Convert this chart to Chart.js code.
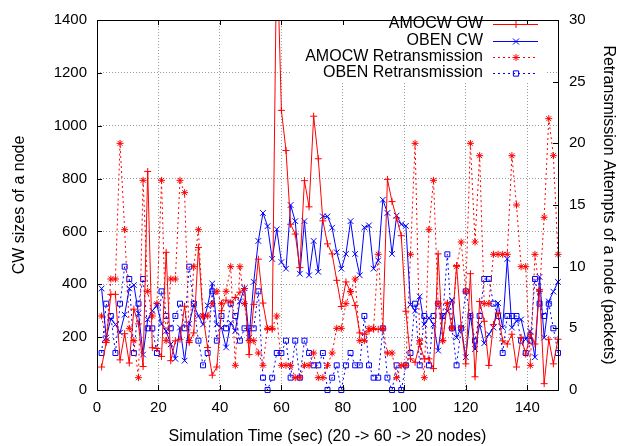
<!DOCTYPE html>
<html>
<head>
<meta charset="utf-8">
<script src="https://cdn.jsdelivr.net/npm/chart.js@4.4.0/dist/chart.umd.min.js"></script>
<style>
  html, body { margin: 0; padding: 0; background: #fff; }
  #wrap { width: 622px; height: 446px; }
</style>
</head>
<body>
<div id="wrap"><canvas id="chart"></canvas></div>
<script>
// simulation time (sec) of each sample
const times = [
  1.5, 3, 4.5, 6, 7.5, 9, 10.5, 12, 13.5, 15,
  16.5, 18, 19.5, 21, 22.5, 24, 25.5, 27, 28.5, 30,
  31.5, 33, 34.5, 36, 37.5, 39, 40.5, 42, 43.5, 45,
  46.5, 48, 49.5, 51, 52.5, 54, 55.5, 57, 58.5, 60,
  61.5, 63, 64.5, 66, 67.5, 69, 70.5, 72, 73.5, 75,
  76.5, 78, 79.5, 81, 82.5, 84, 85.5, 87, 88.5, 90,
  91.5, 93, 94.5, 96, 97.5, 99, 100.5, 102, 103.5, 105,
  106.5, 108, 109.5, 111, 112.5, 114, 115.5, 117, 118.5, 120,
  121.5, 123, 124.5, 126, 127.5, 129, 130.5, 132, 133.5, 135,
  136.5, 138, 139.5, 141, 142.5, 144, 145.5, 147, 148.5, 150
];

// CW sizes (left axis)
const amocwCw = [
  87, 180, 362, 362, 114, 213, 102, 306, 250, 89,
  827, 160, 157, 127, 521, 111, 186, 192, 317, 180,
  216, 539, 279, 161, 56, 87, 300, 340, 330, 350,
  370, 384, 134, 324, 495, 329, 230, 230, 1700, 1058,
  906, 627, 590, 463, 792, 693, 1036, 875, 640, 553,
  515, 415, 316, 409, 372, 320, 216, 211, 223, 230,
  230, 230, 797, 713, 651, 584, 298, 118, 105, 174,
  118, 118, 81, 515, 186, 329, 236, 471, 236, 99,
  440, 50, 335, 260, 93, 248, 291, 186, 174, 211,
  87, 199, 136, 211, 174, 379, 24, 192, 99, 192
];
const obenCw = [
  384, 198, 270, 248, 217, 285, 384, 397, 290, 134,
  267, 300, 320, 250, 223, 173, 118, 236, 111, 250,
  323, 280, 248, 320, 403, 248, 236, 161, 254, 223,
  335, 385, 198, 409, 564, 670, 620, 496, 608, 484,
  459, 700, 639, 440, 639, 434, 564, 447, 657, 657,
  614, 521, 459, 515, 639, 515, 434, 615, 623, 459,
  490, 720, 670, 515, 660, 627, 621, 323, 300, 354,
  248, 273, 248, 149, 279, 298, 341, 198, 236, 124,
  285, 155, 248, 177, 211, 236, 329, 236, 496, 236,
  261, 267, 192, 223, 124, 428, 198, 335, 372, 409
];

// retransmission attempts (right axis)
const amocwRetx = [
  6, 4, 9, 9, 20, 13, 5, 4, 1, 17,
  8, 6, 7, 17, 4, 9, 9, 17, 16, 4,
  10, 13, 6, 6, 7, 8, 7, 8, 10, 2,
  10, 7, 4, 4, 3, 2, 5, 5, 6, 2,
  2, 2, 1, 1, 2, 2, 3, 1, 1, 2,
  3, 5, 5, 7, 8, 9, 4, 4, 5, 5,
  11, 5, 3, 3, 1, 2, 2, 11, 20, 4,
  1, 13, 17, 7, 4, 7, 5, 10, 12, 8,
  20, 12, 19, 7, 7, 11, 11, 11, 11, 19,
  15, 10, 10, 2, 11, 8, 14, 22, 19, 11
];
const obenRetx = [
  3, 7, 6, 3, 7, 10, 9, 3, 7, 9,
  5, 5, 3, 8, 6, 5, 6, 7, 5, 10,
  7, 4, 2, 3, 8, 4, 6, 5, 7, 6,
  4, 5, 5, 5, 8, 1, 0, 1, 3, 3,
  4, 1, 4, 1, 4, 3, 2, 2, 3, 0,
  1, 2, 0, 2, 3, 2, 2, 6, 2, 1,
  1, 5, 1, 0, 2, 0, 2, 3, 7, 2,
  6, 2, 6, 7, 6, 11, 5, 2, 5, 8,
  6, 4, 6, 9, 9, 7, 6, 3, 6, 6,
  6, 4, 3, 4, 9, 7, 6, 7, 5, 3
];

const xTickValues = [0, 20, 40, 60, 80, 100, 120, 140];
const cwTickValues = [0, 200, 400, 600, 800, 1000, 1200, 1400];
const retxTickValues = [0, 5, 10, 15, 20, 25, 30];

const RED = 'rgb(255,0,0)';
const BLUE = 'rgb(0,0,255)';
const FONT = 'Liberation Sans, Arial, sans-serif';

const pts = (ys) => ys.map((y, i) => ({ x: times[i], y: y }));

function marker(ctx, style, x, y, r) {
  ctx.beginPath();
  if (style === 'cross' || style === 'star') {
    ctx.moveTo(x - r, y); ctx.lineTo(x + r, y);
    ctx.moveTo(x, y - r); ctx.lineTo(x, y + r);
  }
  if (style === 'crossRot' || style === 'star') {
    const d = r * 0.75;
    ctx.moveTo(x - d, y - d); ctx.lineTo(x + d, y + d);
    ctx.moveTo(x - d, y + d); ctx.lineTo(x + d, y - d);
  }
  if (style === 'rect') {
    const s = r * 0.75;
    ctx.rect(x - s, y - s, 2 * s, 2 * s);
  }
  ctx.stroke();
}

const framePlugin = {
  id: 'frame',
  beforeDatasetsDraw(chart) {
    // opaque key box like gnuplot
    const ctx = chart.ctx;
    ctx.save();
    ctx.fillStyle = '#fff';
    ctx.fillRect(290, 15, 256, 67);
    ctx.restore();
  },
  afterDatasetsDraw(chart) {
    const ctx = chart.ctx;
    const a = chart.chartArea;
    const sx = chart.scales.x, sy = chart.scales.y, sy2 = chart.scales.y2;
    ctx.save();
    ctx.strokeStyle = '#000';
    ctx.lineWidth = 1;
    ctx.setLineDash([]);
    ctx.beginPath();
    const t = 5;
    xTickValues.forEach(v => {
      const px = Math.round(sx.getPixelForValue(v)) + 0.5;
      ctx.moveTo(px, a.bottom); ctx.lineTo(px, a.bottom - t);
      ctx.moveTo(px, a.top); ctx.lineTo(px, a.top + t);
    });
    cwTickValues.forEach(v => {
      const py = Math.round(sy.getPixelForValue(v)) + 0.5;
      ctx.moveTo(a.left, py); ctx.lineTo(a.left + t, py);
    });
    retxTickValues.forEach(v => {
      const py = Math.round(sy2.getPixelForValue(v)) + 0.5;
      ctx.moveTo(a.right, py); ctx.lineTo(a.right - t, py);
    });
    ctx.stroke();
    ctx.strokeRect(Math.round(a.left) + 0.5, Math.round(a.top) + 0.5,
      Math.round(a.right - a.left), Math.round(a.bottom - a.top));

    // key
    ctx.font = '16px ' + FONT;
    ctx.textAlign = 'right';
    ctx.textBaseline = 'middle';
    const rows = [24, 41, 57, 73];
    chart.data.datasets.forEach((ds, i) => {
      const y = rows[i];
      ctx.fillStyle = '#000';
      ctx.fillText(ds.label, 483, y);
      ctx.strokeStyle = ds.borderColor;
      ctx.setLineDash(ds.borderDash || []);
      ctx.beginPath();
      ctx.moveTo(493, y + 0.5); ctx.lineTo(538, y + 0.5);
      ctx.stroke();
      ctx.setLineDash([]);
      marker(ctx, ds.pointStyle, 516, y + 0.5, ds.pointRadius);
    });
    ctx.restore();
  }
};

const tickFont = { family: FONT, size: 15 };
const titleFont = { family: FONT, size: 16 };
const plain = v => String(v);

new Chart(document.getElementById('chart'), {
  type: 'line',
  data: {
    datasets: [
      {
        label: 'AMOCW CW', data: pts(amocwCw), yAxisID: 'y',
        borderColor: RED, backgroundColor: RED, borderWidth: 1,
        pointStyle: 'cross', pointRadius: 3.5, pointBorderWidth: 1,
        clip: { left: 6, right: 6, top: 0, bottom: 6 }
      },
      {
        label: 'OBEN CW', data: pts(obenCw), yAxisID: 'y',
        borderColor: BLUE, backgroundColor: BLUE, borderWidth: 1,
        pointStyle: 'crossRot', pointRadius: 4, pointBorderWidth: 1,
        clip: { left: 6, right: 6, top: 0, bottom: 6 }
      },
      {
        label: 'AMOCW Retransmission', data: pts(amocwRetx), yAxisID: 'y2',
        borderColor: RED, backgroundColor: RED, borderWidth: 1, borderDash: [2, 3],
        pointStyle: 'star', pointRadius: 3.5, pointBorderWidth: 1,
        clip: { left: 6, right: 6, top: 0, bottom: 6 }
      },
      {
        label: 'OBEN Retransmission', data: pts(obenRetx), yAxisID: 'y2',
        borderColor: BLUE, backgroundColor: 'rgba(0,0,0,0)', borderWidth: 1, borderDash: [2, 3],
        pointStyle: 'rect', pointRadius: 3.5, pointBorderWidth: 1,
        clip: { left: 6, right: 6, top: 0, bottom: 6 }
      }
    ]
  },
  options: {
    responsive: true,
    maintainAspectRatio: false,
    animation: false,
    events: [],
    layout: { padding: { top: 14, left: 0, right: 0, bottom: 0 } },
    elements: { line: { tension: 0 } },
    scales: {
      x: {
        type: 'linear', position: 'bottom', min: 0, max: 150,
        afterBuildTicks: s => { s.ticks = xTickValues.map(v => ({ value: v })); },
        afterFit: s => { s.height = 56; },
        grid: { color: '#9a9a9a', drawTicks: false },
        border: { display: false, dash: [1, 2] },
        ticks: { font: tickFont, color: '#000', padding: 9, maxRotation: 0, callback: plain },
        title: { display: true, text: 'Simulation Time (sec) (20 -> 60 -> 20 nodes)',
                 font: titleFont, color: '#000', padding: { top: 1, bottom: 0 } }
      },
      y: {
        position: 'left', min: 0, max: 1400,
        afterBuildTicks: s => { s.ticks = cwTickValues.map(v => ({ value: v })); },
        afterFit: s => { s.width = 97; },
        grid: { color: '#9a9a9a', drawTicks: false },
        border: { display: false, dash: [1, 2] },
        ticks: { font: tickFont, color: '#000', padding: 10, callback: plain },
        title: { display: true, text: 'CW sizes of a node', font: titleFont, color: '#000',
                 padding: { top: 10, bottom: 0 } }
      },
      y2: {
        position: 'right', min: 0, max: 30,
        afterBuildTicks: s => { s.ticks = retxTickValues.map(v => ({ value: v })); },
        afterFit: s => { s.width = 64; },
        grid: { display: false, drawTicks: false },
        border: { display: false },
        ticks: { font: tickFont, color: '#000', padding: 11, callback: plain },
        title: { display: true, text: 'Retransmission Attempts of a node (packets)',
                 font: titleFont, color: '#000', padding: { top: 4, bottom: 0 } }
      }
    },
    plugins: {
      legend: { display: false },
      tooltip: { enabled: false }
    }
  },
  plugins: [framePlugin]
});
</script>
</body>
</html>
